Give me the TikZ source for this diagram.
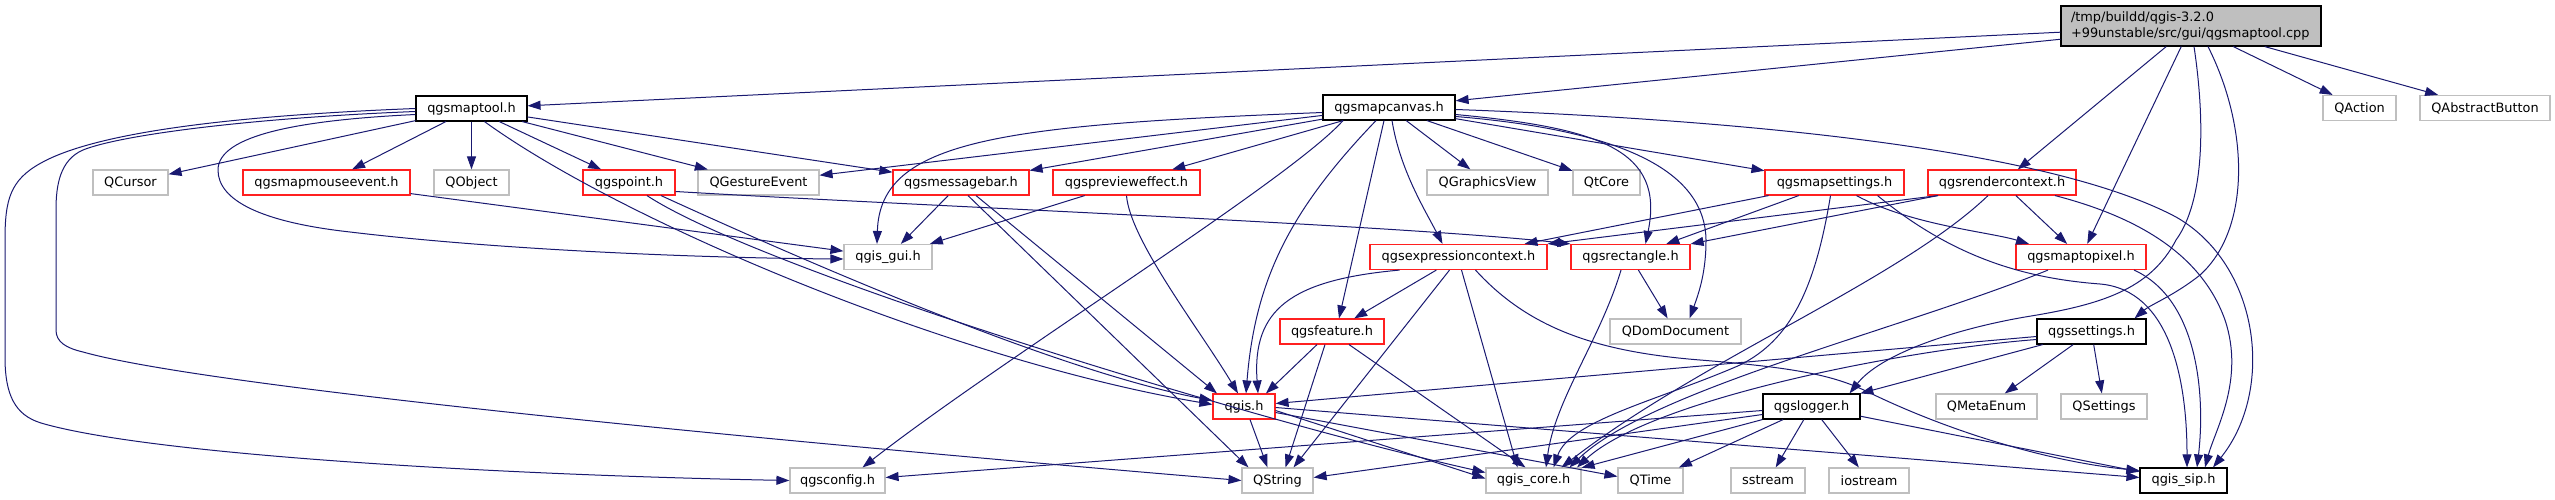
\documentclass[tikz,border=0pt]{standalone}
\usepackage{fontspec}
\setmainfont{DejaVu Sans}
\usetikzlibrary{arrows.meta}
\definecolor{edgeblue}{HTML}{191970}
\definecolor{grayline}{HTML}{BFBFBF}
\definecolor{cppfill}{HTML}{BFBFBF}
\definecolor{redline}{HTML}{FF2020}
\begin{document}
\begin{tikzpicture}[x=1pt,y=1pt,
  nb/.style={rectangle, inner sep=0pt, minimum height=25pt, fill=white, line width=1.15pt, font=\fontsize{12.9}{16}\selectfont},
  blackbox/.style={nb, draw=black},
  redbox/.style={nb, draw=redline},
  graybox/.style={nb, draw=grayline},
  cppbox/.style={nb, draw=black, fill=cppfill, minimum width=260pt, minimum height=40pt, text width=240pt, align=left},
  dep/.style={draw=edgeblue, line width=1pt, -{Triangle[length=13pt,width=9pt]}},
]
\useasboundingbox (0,0) rectangle (2555,-500);

% nodes
\node[cppbox] (cpp) at (2191,-26) {/tmp/buildd/qgis-3.2.0\\+99unstable/src/gui/qgsmaptool.cpp};
\node[blackbox, minimum width=111pt] (maptool) at (471.5,-108.5) {qgsmaptool.h};
\node[blackbox, minimum width=132pt] (canvas) at (1389,-107.5) {qgsmapcanvas.h};
\node[graybox, minimum width=73pt] (qaction) at (2359.5,-108) {QAction};
\node[graybox, minimum width=130pt] (qabsbtn) at (2485,-108) {QAbstractButton};

\node[graybox, minimum width=75pt] (qcursor) at (130.5,-182.5) {QCursor};
\node[redbox, minimum width=167pt] (mouse) at (326.5,-182.5) {qgsmapmouseevent.h};
\node[graybox, minimum width=75pt] (qobject) at (471.5,-182.5) {QObject};
\node[redbox, minimum width=92pt] (point) at (629,-182.5) {qgspoint.h};
\node[graybox, minimum width=121pt] (gesture) at (758.5,-182.5) {QGestureEvent};
\node[redbox, minimum width=136pt] (msgbar) at (961,-182.5) {qgsmessagebar.h};
\node[redbox, minimum width=147pt] (preview) at (1126.5,-182.5) {qgsprevieweffect.h};
\node[graybox, minimum width=121pt] (gview) at (1487.5,-182.5) {QGraphicsView};
\node[graybox, minimum width=67pt] (qtcore) at (1606.5,-182.5) {QtCore};
\node[redbox, minimum width=139pt] (mapset) at (1834.5,-182.5) {qgsmapsettings.h};
\node[redbox, minimum width=148pt] (render) at (2002,-182.5) {qgsrendercontext.h};

\node[graybox, minimum width=88pt] (gui) at (888,-257) {qgis\_gui.h};
\node[redbox, minimum width=177pt] (expr) at (1458.5,-257) {qgsexpressioncontext.h};
\node[redbox, minimum width=119pt] (rect) at (1630.5,-257) {qgsrectangle.h};
\node[redbox, minimum width=130pt] (m2p) at (2081,-257) {qgsmaptopixel.h};

\node[redbox, minimum width=104pt] (feature) at (1332,-331.5) {qgsfeature.h};
\node[graybox, minimum width=131pt] (dom) at (1675.5,-331.5) {QDomDocument};
\node[blackbox, minimum width=109pt] (settings) at (2091.5,-331.5) {qgssettings.h};

\node[redbox, minimum width=62pt] (qgis) at (1244,-406.5) {qgis.h};
\node[blackbox, minimum width=97pt] (logger) at (1811.5,-406.5) {qgslogger.h};
\node[graybox, minimum width=101pt] (metaenum) at (1986.5,-406.5) {QMetaEnum};
\node[graybox, minimum width=86pt] (qsettings) at (2104,-406.5) {QSettings};

\node[graybox, minimum width=95pt] (config) at (837.5,-480.5) {qgsconfig.h};
\node[graybox, minimum width=71pt] (qstring) at (1277.5,-480.5) {QString};
\node[graybox, minimum width=95pt] (core) at (1533.5,-480.5) {qgis\_core.h};
\node[graybox, minimum width=65pt] (qtime) at (1650.5,-480.5) {QTime};
\node[graybox, minimum width=74pt] (sstream) at (1768,-480.5) {sstream};
\node[graybox, minimum width=80pt] (iostream) at (1869,-480.5) {iostream};
\node[blackbox, minimum width=87pt] (sip) at (2183.5,-480.5) {qgis\_sip.h};

% cpp edges
\draw[dep] (cpp) -- (maptool);
\draw[dep] (cpp) -- (canvas);
\draw[dep] (cpp) -- (qaction);
\draw[dep] (cpp) -- (qabsbtn);
\draw[dep] (cpp) -- (render);
\draw[dep] (cpp) -- (m2p);
\draw[dep] ([xshift=3pt]cpp.south) .. controls (2205,-120) and (2205,-200) .. (2176,-240) .. controls (2150,-290) and (2100,-305) .. (2025,-317) .. controls (1950,-330) and (1880,-355) .. ([xshift=38pt]logger.north);
\draw[dep] ([xshift=17pt]cpp.south) .. controls (2250,-130) and (2250,-230) .. (2200,-275) .. controls (2175,-295) and (2150,-305) .. ([xshift=43pt]settings.north);

% qgsmaptool edges
\draw[dep] (maptool) -- (qcursor);
\draw[dep] (maptool) -- (mouse);
\draw[dep] (maptool) -- (qobject);
\draw[dep] (maptool) -- (point);
\draw[dep] (maptool) -- (gesture);
\draw[dep] (maptool) -- (msgbar);
\draw[dep] ([yshift=-6pt]maptool.west) .. controls (300,-120) and (218,-135) .. (218,-170) .. controls (218,-200) and (260,-222) .. (350,-232) .. controls (500,-250) and (700,-258) .. ([yshift=-2pt]gui.west);
\draw[dep] (maptool.west) .. controls (250,-115) and (100,-130) .. (41,-163) .. controls (10,-180) and (5,-200) .. (5,-240) -- (5,-357) .. controls (5,-395) and (15,-415) .. (41,-423) .. controls (150,-455) and (500,-475) .. (config.west);
\draw[dep] ([yshift=-3pt]maptool.west) .. controls (250,-118) and (120,-135) .. (83,-150) .. controls (60,-160) and (56,-185) .. (56,-210) -- (56,-330) .. controls (56,-342) and (66,-348) .. (83,-352) .. controls (200,-385) and (700,-435) .. (qstring.west);
\draw[dep] ([xshift=13pt]maptool.south) .. controls (620,-220) and (950,-360) .. ([yshift=2pt]qgis.west);

% qgsmapmouseevent, qgspoint
\draw[dep] (mouse) -- (gui);
\draw[dep] ([yshift=-9pt]point.east) .. controls (900,-205) and (1400,-225) .. (rect.north west);
\draw[dep] ([xshift=32pt]point.south) .. controls (780,-250) and (1050,-370) .. ([yshift=6pt]qgis.west);
\draw[dep] ([xshift=18pt]point.south) .. controls (760,-270) and (1250,-420) .. ([yshift=8pt]core.west);

% qgsmessagebar, qgsprevieweffect
\draw[dep] (msgbar) -- (gui);
\draw[dep] ([xshift=7pt]msgbar.south) -- ([xshift=-29pt]qstring.north);
\draw[dep] ([xshift=15pt]msgbar.south) -- ([xshift=-27pt]qgis.north);
\draw[dep] (preview) -- (gui);
\draw[dep] (preview.south) .. controls (1130,-240) and (1200,-330) .. ([xshift=-6pt]qgis.north);

% qgsmapcanvas edges
\draw[dep] ([yshift=-5pt]canvas.west) .. controls (1000,-125) and (880,-140) .. ([xshift=-11pt]gui.north);
\draw[dep] (canvas) -- (gesture);
\draw[dep] (canvas) -- (msgbar);
\draw[dep] (canvas) -- (preview);
\draw[dep] ([xshift=-46pt]canvas.south) .. controls (1290,-180) and (1000,-360) .. ([xshift=25pt]config.north);
\draw[dep] ([xshift=-13pt]canvas.south) .. controls (1290,-210) and (1255,-280) .. ([xshift=2pt]qgis.north);
\draw[dep] ([xshift=-5pt]canvas.south) -- ([xshift=7pt]feature.north);
\draw[dep] ([xshift=3pt]canvas.south) .. controls (1400,-170) and (1425,-210) .. ([xshift=-16pt]expr.north);
\draw[dep] (canvas) -- (gview);
\draw[dep] (canvas) -- (qtcore);
\draw[dep] (canvas) -- (mapset);
\draw[dep] ([yshift=-7pt]canvas.east) .. controls (1600,-128) and (1665,-150) .. ([xshift=15pt]rect.north);
\draw[dep] ([yshift=-9pt]canvas.east) .. controls (1620,-130) and (1705,-170) .. (1706,-240) .. controls (1706,-270) and (1700,-290) .. ([xshift=14pt]dom.north);
\draw[dep] ([yshift=-2pt]canvas.east) .. controls (1750,-120) and (2050,-150) .. (2176,-217) .. controls (2260,-265) and (2275,-390) .. ([xshift=29.5pt]sip.north);

% qgsmapsettings
\draw[dep] (mapset) -- (expr);
\draw[dep] (mapset) -- (rect);
\draw[dep] ([xshift=-4pt]mapset.south) .. controls (1815,-290) and (1790,-340) .. (1740,-365) .. controls (1660,-400) and (1570,-420) .. ([xshift=20pt]core.north);
\draw[dep] ([xshift=22pt]mapset.south) .. controls (1910,-225) and (1990,-232) .. ([xshift=-52pt]m2p.north);
\draw[dep] ([xshift=43pt]mapset.south) .. controls (1950,-255) and (2020,-278) .. (2100,-284) .. controls (2170,-290) and (2187,-380) .. ([xshift=3.5pt]sip.north);

% qgsrendercontext
\draw[dep] ([xshift=-64pt]render.south) -- (expr.north east);
\draw[dep] ([xshift=-64pt]render.south) -- (rect.north east);
\draw[dep] ([xshift=-14pt]render.south) .. controls (1900,-280) and (1700,-360) .. ([xshift=28pt]core.north);
\draw[dep] (render) -- (m2p);
\draw[dep] ([xshift=53pt]render.south) .. controls (2130,-215) and (2200,-250) .. (2225,-320) .. controls (2245,-380) and (2215,-430) .. ([xshift=21.5pt]sip.north);

% qgsmaptopixel
\draw[dep] ([xshift=-33pt]m2p.south) .. controls (1900,-330) and (1650,-390) .. ([xshift=36pt]core.north);
\draw[dep] ([xshift=53pt]m2p.south) .. controls (2200,-300) and (2205,-400) .. ([xshift=13.5pt]sip.north);

% qgssettings
\draw[dep] ([yshift=-5pt]settings.west) -- ([yshift=3pt]qgis.east);
\draw[dep] ([yshift=-8pt]settings.west) .. controls (1900,-350) and (1650,-400) .. ([xshift=43.5pt]core.north);
\draw[dep] (settings) -- (logger);
\draw[dep] (settings) -- (metaenum);
\draw[dep] (settings) -- (qsettings);

% qgslogger
\draw[dep] ([yshift=-4pt]logger.west) -- ([yshift=3pt]config.east);
\draw[dep] ([yshift=-8pt]logger.west) -- ([yshift=3pt]qstring.east);
\draw[dep] (logger) -- (core);
\draw[dep] (logger) -- (qtime);
\draw[dep] (logger) -- (sstream);
\draw[dep] (logger) -- (iostream);
\draw[dep] (logger) -- (sip);

% qgsexpressioncontext
\draw[dep] (expr) -- (feature);
\draw[dep] ([xshift=-59pt]expr.south) .. controls (1290,-280) and (1252,-310) .. ([xshift=14pt]qgis.north);
\draw[dep] ([xshift=-9pt]expr.south) -- ([xshift=16pt]qstring.north);
\draw[dep] ([xshift=3pt]expr.south) -- ([xshift=-16pt]core.north);
\draw[dep] ([xshift=17pt]expr.south) .. controls (1530,-330) and (1600,-352) .. (1700,-360) .. controls (1800,-368) and (1835,-376) .. (1868,-392) .. controls (1950,-432) and (2050,-462) .. ([yshift=10pt]sip.west);

% qgsrectangle
\draw[dep] (rect) -- (dom);
\draw[dep] ([xshift=-9.5pt]rect.south) .. controls (1600,-340) and (1555,-400) .. ([xshift=12.5pt]core.north);

% qgsfeature
\draw[dep] ([xshift=-15pt]feature.south) -- ([xshift=22pt]qgis.north);
\draw[dep] ([xshift=-7pt]feature.south) -- ([xshift=8pt]qstring.north);
\draw[dep] ([xshift=17pt]feature.south) -- ([xshift=-8pt]core.north);

% qgis.h
\draw[dep] ([xshift=6pt]qgis.south) -- ([xshift=-10pt]qstring.north);
\draw[dep] ([yshift=-4pt]qgis.east) -- ([yshift=2pt]core.west);
\draw[dep] ([yshift=-6pt]qgis.east) -- ([yshift=4pt]qtime.west);
\draw[dep] ([yshift=-1pt]qgis.east) -- ([yshift=3pt]sip.west);
\end{tikzpicture}
\end{document}
